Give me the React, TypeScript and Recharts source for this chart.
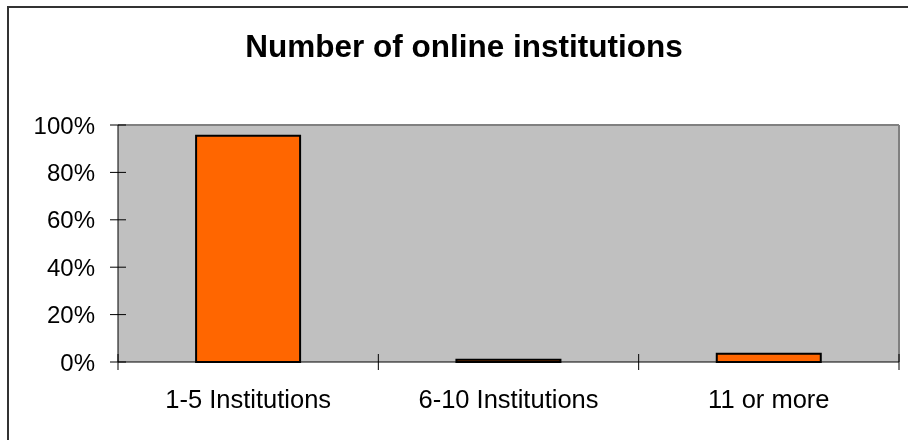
import React from 'react';
import { BarChart, Bar, XAxis, YAxis, CartesianGrid } from 'recharts';

// share of respondents per bucket (percent)
const categories = ['1-5 Institutions', '6-10 Institutions', '11 or more'];
const shares = [95.5, 1, 3.5];
const yTicks = [0, 20, 40, 60, 80, 100];

const data = categories.map((name, i) => ({ name, share: shares[i] }));

const FONT = "'Liberation Sans', Arial, sans-serif";
const CHART_W = 908;
const CHART_H = 440;
const MARGIN = { top: 124, right: 8, bottom: 0, left: 0 };
const Y_AXIS_W = 118;
// half a category band, so the ticks sit on the band boundaries
const HALF_BAND = (CHART_W - MARGIN.right - 1 - Y_AXIS_W) / categories.length / 2;

const YTick = (props: any) => {
  const { x, y, payload } = props;
  return (
    <g>
      <line x1={x - 8} x2={x + 8} y1={y} y2={y} stroke="#000" />
      <text x={x - 23} y={y} dy={8.5} textAnchor="end" fontSize={24} fill="#000" fontFamily={FONT}>
        {payload.value}%
      </text>
    </g>
  );
};

const CatTick = (props: any) => {
  const { x, y, payload, index } = props;
  const last = index === categories.length - 1;
  return (
    <g>
      <line x1={x - HALF_BAND} x2={x - HALF_BAND} y1={y - 8} y2={y + 8} stroke="#000" />
      {last && <line x1={x + HALF_BAND} x2={x + HALF_BAND} y1={y - 8} y2={y + 8} stroke="#000" />}
      <text x={x} y={y + 46} textAnchor="middle" fontSize={25.5} fill="#000" fontFamily={FONT}>
        {payload.value}
      </text>
    </g>
  );
};

export default function App() {
  return (
    <div>
      <div
        style={{
          position: 'fixed',
          left: 7,
          top: 6,
          width: 920,
          height: 450,
          borderLeft: '2px solid #333',
          borderTop: '2px solid #333',
          boxSizing: 'border-box',
        }}
      />
      <div style={{ position: 'fixed', left: 0, top: 0, width: CHART_W, height: CHART_H }}>
        <div
          style={{
            position: 'absolute',
            left: 10,
            top: 31,
            width: CHART_W,
            textAlign: 'center',
            fontFamily: FONT,
            fontWeight: 'bold',
            fontSize: 31.5,
            lineHeight: '31px',
            color: '#000',
          }}
        >
          Number of online institutions
        </div>
        <BarChart width={CHART_W} height={CHART_H} data={data} margin={MARGIN} barCategoryGap="30%">
          <CartesianGrid horizontal={false} vertical={false} fill="#c0c0c0" />
          <XAxis
            xAxisId="top"
            orientation="top"
            dataKey="name"
            height={1}
            tick={false}
            tickLine={false}
            axisLine={{ stroke: '#808080', strokeWidth: 2 }}
          />
          <YAxis
            yAxisId="right"
            orientation="right"
            domain={[0, 100]}
            width={1}
            tick={false}
            tickLine={false}
            axisLine={{ stroke: '#808080', strokeWidth: 2 }}
          />
          <XAxis
            xAxisId="cat"
            dataKey="name"
            height={78}
            tickSize={0}
            tickMargin={0}
            tickLine={false}
            axisLine={{ stroke: '#000' }}
            interval={0}
            tick={<CatTick />}
          />
          <YAxis
            domain={[0, 100]}
            ticks={yTicks}
            interval={0}
            width={Y_AXIS_W}
            tickSize={0}
            tickMargin={0}
            tickLine={false}
            tick={<YTick />}
            axisLine={{ stroke: '#000' }}
          />
          <Bar xAxisId="cat" dataKey="share" fill="#ff6600" stroke="#000" strokeWidth={2} isAnimationActive={false} />
        </BarChart>
      </div>
    </div>
  );
}
